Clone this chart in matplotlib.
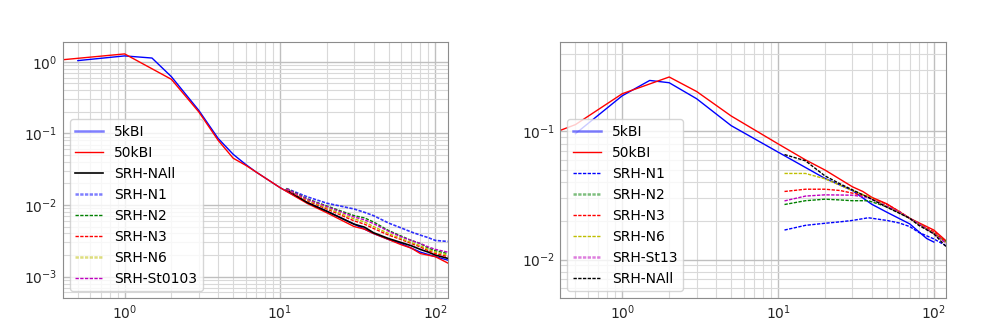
import numpy as np
import matplotlib
matplotlib.use("Agg")
import matplotlib.pyplot as plt

plt.rcParams['lines.scale_dashes'] = False

# ---- left panel data ----
L_x5 = [0.5, 1, 1.5, 2, 3, 4, 5, 6, 7, 8, 10, 15, 20, 30, 40, 50, 60, 70, 80, 100, 120]
L_y5 = [1.04, 1.21, 1.13, 0.62, 0.21, 0.085, 0.051, 0.037, 0.029, 0.024, 0.0175, 0.0108,
        0.0082, 0.0054, 0.0040, 0.0033, 0.0029, 0.0025, 0.0022, 0.0019, 0.0017]
L_x50 = [0.4, 1, 2, 3, 4, 5, 6, 7, 8, 10, 15, 20, 30, 35, 40, 50, 60, 70, 80, 100, 120]
L_y50 = [1.07, 1.29, 0.57, 0.20, 0.08, 0.045, 0.036, 0.029, 0.024, 0.0175, 0.0105, 0.0078,
         0.0050, 0.0046, 0.0040, 0.0033, 0.0028, 0.0025, 0.0021, 0.0019, 0.00155]
L_xs = [11, 15, 20, 30, 35, 40, 50, 60, 70, 80, 90, 100, 120]
L_nall = [0.0165, 0.0108, 0.0082, 0.0054, 0.0049, 0.0041, 0.0034, 0.0030, 0.0027, 0.0024, 0.0022, 0.0020, 0.0018]
L_n1 = [0.0170, 0.0130, 0.0106, 0.0088, 0.0079, 0.0071, 0.0056, 0.0048, 0.0042, 0.0038, 0.0035, 0.0032, 0.0031]
L_n2 = [0.0170, 0.0122, 0.0097, 0.0071, 0.0066, 0.0058, 0.0044, 0.0037, 0.0032, 0.0029, 0.0025, 0.0023, 0.0021]
L_n3 = [0.0165, 0.0114, 0.0088, 0.0060, 0.0054, 0.0047, 0.0038, 0.0033, 0.0029, 0.0026, 0.0023, 0.0021, 0.0019]
L_n6 = [0.0168, 0.0117, 0.0091, 0.0064, 0.0058, 0.0050, 0.0040, 0.0034, 0.0030, 0.0027, 0.0024, 0.0022, 0.0020]
L_st = [0.0168, 0.0120, 0.0095, 0.0068, 0.0062, 0.0055, 0.0043, 0.0036, 0.0032, 0.0029, 0.0026, 0.0024, 0.0022]

# ---- right panel data ----
R_x5 = [0.5, 1, 1.5, 2, 3, 5, 10, 20, 30, 40, 50, 70, 90, 100]
R_y5 = [0.096, 0.19, 0.25, 0.24, 0.18, 0.111, 0.069, 0.043, 0.0346, 0.027, 0.0234, 0.019, 0.0146, 0.0137]
R_x50 = [0.4, 0.5, 1, 2, 3, 5, 10, 15, 20, 30, 35, 40, 50, 70, 100, 120]
R_y50 = [0.102, 0.113, 0.197, 0.266, 0.205, 0.132, 0.080, 0.060, 0.050, 0.037, 0.034, 0.0306,
         0.0272, 0.021, 0.017, 0.014]
R_xs = [11, 15, 20, 25, 30, 38, 50, 60, 70, 80, 100, 120]
R_n1 = [0.017, 0.0185, 0.0192, 0.0197, 0.0202, 0.0212, 0.0202, 0.0193, 0.0181, 0.0163, 0.0145, 0.0128]
R_n2 = [0.0269, 0.0288, 0.0296, 0.0292, 0.0288, 0.0288, 0.0258, 0.0232, 0.021, 0.019, 0.016, 0.0138]
R_n3 = [0.034, 0.0354, 0.0354, 0.0346, 0.0330, 0.0310, 0.027, 0.0238, 0.021, 0.019, 0.0165, 0.0137]
R_n6 = [0.047, 0.047, 0.0427, 0.038, 0.0346, 0.0310, 0.026, 0.0235, 0.021, 0.019, 0.016, 0.0135]
R_st = [0.0287, 0.0313, 0.032, 0.0319, 0.0318, 0.0305, 0.026, 0.0235, 0.021, 0.019, 0.0159, 0.0134]
R_nall = [0.066, 0.059, 0.045, 0.039, 0.035, 0.0305, 0.0256, 0.023, 0.021, 0.0185, 0.0159, 0.0126]

fs = 10
dash = (0, (2.4, 1.0))
fig = plt.figure(figsize=(9.97, 3.35), dpi=100)
ax1 = fig.add_axes([0.063, 0.110, 0.386, 0.765])
ax2 = fig.add_axes([0.562, 0.110, 0.387, 0.765])


def style(ax):
    ax.set_xscale('log')
    ax.set_yscale('log')
    ax.grid(which='major', color='0.75', lw=1.0)
    ax.grid(which='minor', color='0.85', lw=0.8)
    ax.set_axisbelow(True)
    for s in ax.spines.values():
        s.set_color('0.55')
    ax.tick_params(which='both', length=0, pad=4, labelsize=fs, labelcolor='0.15')


def soften(leg, idx):
    # some legend handles look thicker and lighter in the original
    for i in idx:
        h = leg.legend_handles[i]
        h.set_linewidth(1.8)
        h.set_alpha(0.5)


# left
ax1.plot(L_x5, L_y5, color='b', lw=1, label='5kBI')
ax1.plot(L_x50, L_y50, color='r', lw=1, label='50kBI')
ax1.plot(L_xs, L_nall, color='k', lw=1.2, label='SRH-NAll')
ax1.plot(L_xs, L_n1, color='b', ls=dash, lw=1.2, alpha=0.8, label='SRH-N1')
ax1.plot(L_xs, L_n2, color='g', ls=dash, lw=1, label='SRH-N2')
ax1.plot(L_xs, L_n3, color='r', ls=dash, lw=1, label='SRH-N3')
ax1.plot(L_xs, L_n6, color='y', ls=dash, lw=1, label='SRH-N6')
ax1.plot(L_xs, L_st, color='m', ls=dash, lw=1, label='SRH-St0103')
style(ax1)
ax1.set_xlim(0.4, 120)
ax1.set_ylim(5e-4, 1.9)
leg1 = ax1.legend(loc='lower left', fontsize=fs)
soften(leg1, [0, 3, 6])

# right
ax2.plot(R_x5, R_y5, color='b', lw=1, label='5kBI')
ax2.plot(R_x50, R_y50, color='r', lw=1, label='50kBI')
ax2.plot(R_xs, R_n1, color='b', ls=dash, lw=1, label='SRH-N1')
ax2.plot(R_xs, R_n2, color='g', ls=dash, lw=1, label='SRH-N2')
ax2.plot(R_xs, R_n3, color='r', ls=dash, lw=1, label='SRH-N3')
ax2.plot(R_xs, R_n6, color='y', ls=dash, lw=1, label='SRH-N6')
ax2.plot(R_xs, R_st, color='m', ls=dash, lw=1, label='SRH-St13')
ax2.plot(R_xs, R_nall, color='k', ls=dash, lw=1, label='SRH-NAll')
style(ax2)
ax2.set_xlim(0.4, 120)
ax2.set_ylim(0.005, 0.5)
leg2 = ax2.legend(loc='lower left', fontsize=fs)
soften(leg2, [0, 3, 6])

fig.savefig('out.png', dpi=100)
